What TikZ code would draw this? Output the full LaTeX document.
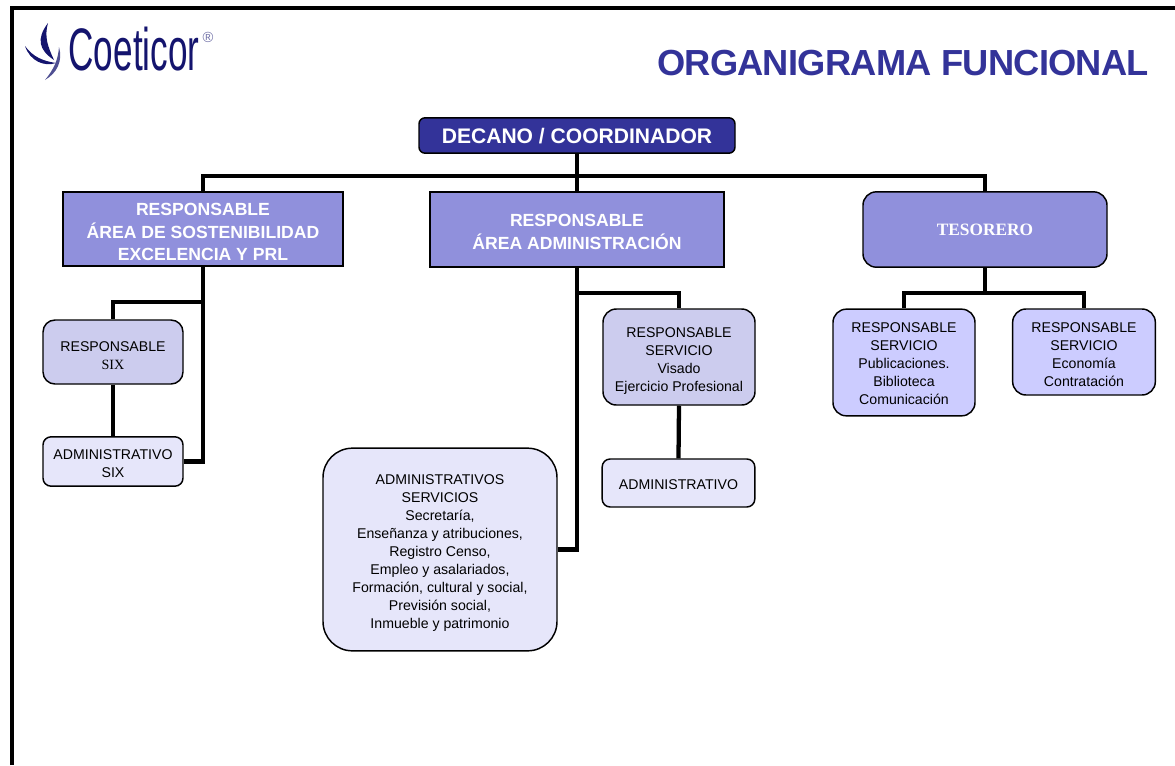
\documentclass[tikz,border=0pt]{standalone}
\usepackage{fontspec}
\setmainfont{Liberation Sans}
\newfontfamily\serifont{Liberation Serif}
\definecolor{navy}{HTML}{333399}
\definecolor{logoblue}{HTML}{14146E}
\definecolor{areablue}{HTML}{9090DC}
\definecolor{midblue}{HTML}{CCCCEE}
\definecolor{paleblue}{HTML}{E6E6FA}
\definecolor{liloblue}{HTML}{CCCCFF}
\newcommand{\topgap}[1]{\rule{0pt}{#1pt}}
\tikzset{
    box/.style={draw=black,line width=1.1pt,align=center,inner sep=0pt,text=black,
        font=\fontsize{10.6}{13.5}\selectfont},
    areabox/.style={box,fill=areablue,text=white,
        font=\fontsize{13.2}{17}\selectfont\bfseries},
    conn/.style={line width=3.2pt,black},
}
\begin{document}
\begin{tikzpicture}[x=0.75pt,y=-0.75pt]
    \useasboundingbox (0,0) rectangle (1175,765);
    \draw[line width=3.6pt,line cap=butt] (12,765) -- (12,8) -- (1175,8);

    \fill[logoblue] (48,23) .. controls (36,39) and (39,50) .. (54,60)
        .. controls (48,47) and (44,37) .. (48,23);
    \fill[logoblue] (25,46) .. controls (30,61) and (44,67) .. (56,63)
        .. controls (43,61) and (33,57) .. (25,46);
    \fill[logoblue!75] (59,47) .. controls (63,61) and (57,73) .. (45,80)
        .. controls (54,69) and (58,60) .. (59,47);
    \node[text=logoblue,xscale=0.585,inner sep=0pt,font=\fontsize{45}{50}\selectfont] (logo) at (134,49.5) {Coeticor};
    \node[text=logoblue!60,inner sep=0pt,font=\fontsize{11}{12}\selectfont] (reg) at (208,37) {®};
    \node[text=navy,inner sep=0pt,font=\fontsize{27.2}{30}\selectfont\bfseries] (title) at (903,63) {\addfontfeature{LetterSpace=-2}ORGANIGRAMA FUNCIONAL};

    \node[box,fill=navy,rounded corners=4.5pt,minimum width=237pt,minimum height=26.5pt,text=white,
        font=\fontsize{15.8}{18}\selectfont\bfseries] (decano) at (577,135.5) {\topgap{13}DECANO / COORDINADOR};
    \node[areabox,minimum width=210pt,minimum height=55.5pt] (sosten) at (203,229)
        {\topgap{13.75}RESPONSABLE\\ÁREA DE SOSTENIBILIDAD\\EXCELENCIA Y PRL};
    \node[areabox,minimum width=220.5pt,minimum height=56.5pt] (admon) at (577,229.5)
        {\topgap{12.9}RESPONSABLE\\ÁREA ADMINISTRACIÓN};
    \node[areabox,rounded corners=10pt,minimum width=183pt,minimum height=56.5pt,
        font=\serifont\fontsize{13}{15}\selectfont\bfseries] (tesorero) at (985,229.5) {TESORERO};

    \node[box,fill=midblue,rounded corners=9pt,minimum width=105pt,minimum height=48pt] (six) at (113,352)
        {\topgap{13.25}RESPONSABLE\\{\serifont SIX}};
    \node[box,fill=paleblue,rounded corners=6pt,minimum width=105pt,minimum height=37pt] (admsix) at (113,461.5)
        {\topgap{10.25}ADMINISTRATIVO\\SIX};
    \node[box,fill=paleblue,rounded corners=22pt,minimum width=175.5pt,minimum height=152pt] (admins) at (440,549.5)
        {\topgap{12.9}ADMINISTRATIVOS\\SERVICIOS\\Secretaría,\\Enseñanza y atribuciones,\\Registro Censo,\\Empleo y asalariados,\\Formación, cultural y social,\\Previsión social,\\Inmueble y patrimonio};
    \node[box,fill=midblue,rounded corners=10pt,minimum width=114pt,minimum height=72pt] (visado) at (679,357)
        {\topgap{12.9}RESPONSABLE\\SERVICIO\\Visado\\Ejercicio Profesional};
    \node[box,fill=paleblue,rounded corners=6pt,minimum width=114.5pt,minimum height=36pt] (admvis) at (678.5,483)
        {\topgap{9.9}ADMINISTRATIVO};
    \node[box,fill=liloblue,rounded corners=10pt,minimum width=106.5pt,minimum height=80pt] (public) at (904,362.5)
        {\topgap{9.5}RESPONSABLE\\SERVICIO\\Publicaciones.\\Biblioteca\\Comunicación};
    \node[box,fill=liloblue,rounded corners=10pt,minimum width=107pt,minimum height=64.5pt] (econom) at (1084,352)
        {\topgap{11.4}RESPONSABLE\\SERVICIO\\Economía\\Contratación};

    \coordinate (bar) at (577,176);
    \coordinate (brsix) at (203,302);
    \coordinate (bradm) at (577,293);
    \coordinate (brtes) at (985,293);

    \draw[conn] (decano.south) -- (admon.north);
    \draw[conn] (sosten.north) |- (bar) -| (tesorero.north);
    \draw[conn] (sosten.south) |- (admsix.east);
    \draw[conn] (brsix) -| (six.north);
    \draw[conn] (six.south) -- (admsix.north);
    \draw[conn] (admon.south) |- (admins.east);
    \draw[conn] (bradm) -| (visado.north);
    \draw[conn] (visado.south) -- (admvis.north);
    \draw[conn] (tesorero.south) -- (brtes);
    \draw[conn] (public.north) |- (brtes) -| (econom.north);
\end{tikzpicture}
\end{document}
